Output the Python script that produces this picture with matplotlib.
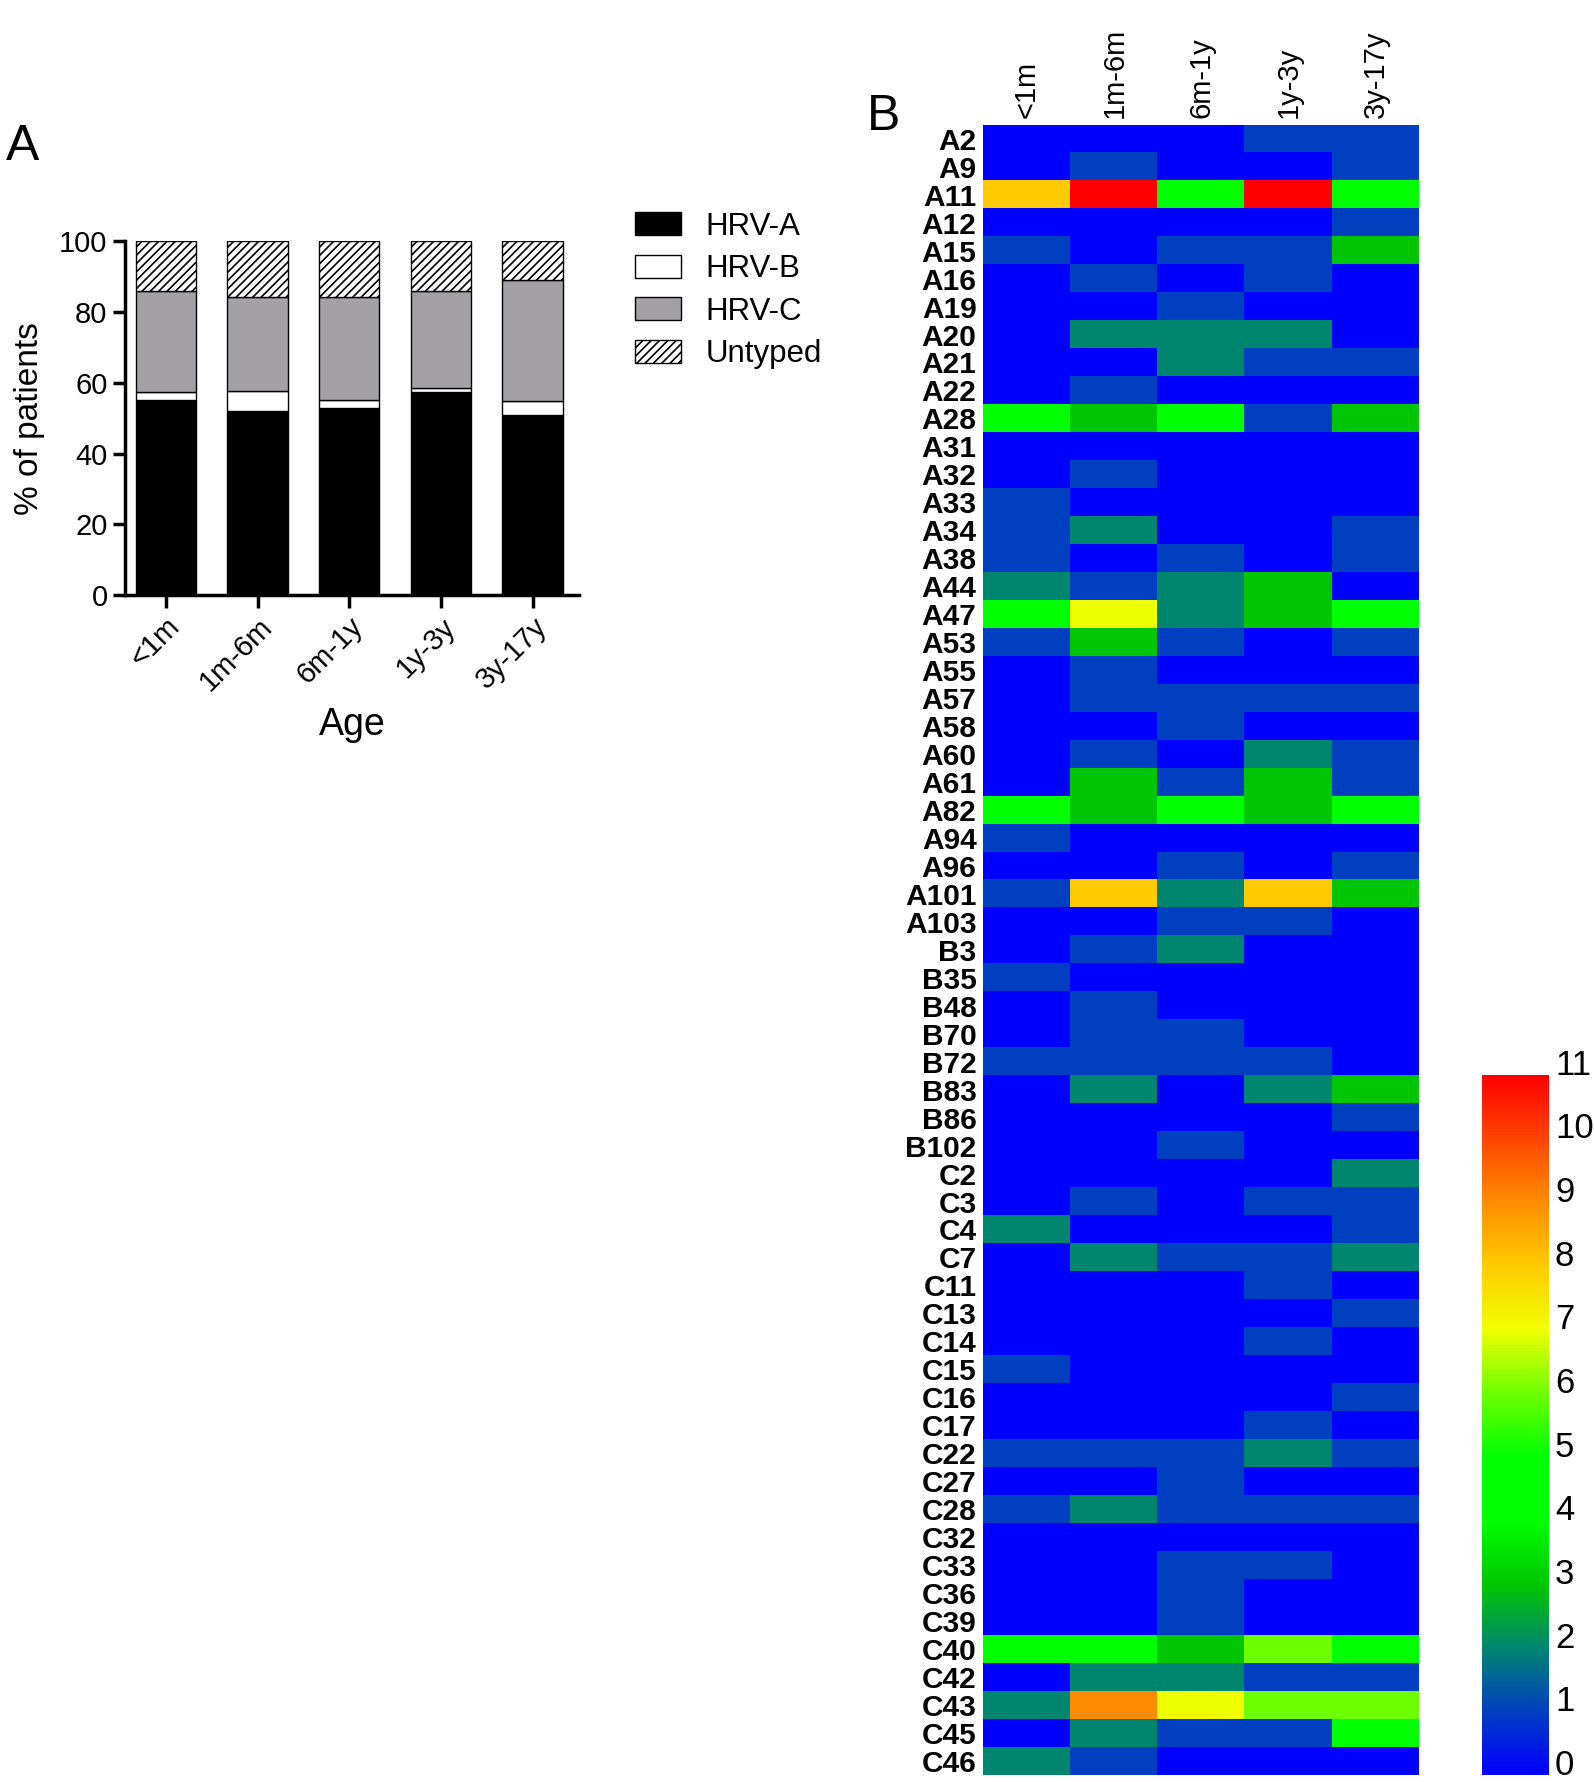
import numpy as np
import matplotlib
matplotlib.use("Agg")
import matplotlib.pyplot as plt
from matplotlib.colors import LinearSegmentedColormap
from matplotlib.patches import Patch
from matplotlib.transforms import ScaledTranslation

plt.rcParams['font.family'] = ['Liberation Sans', 'DejaVu Sans']
plt.rcParams['hatch.linewidth'] = 1.2

# ---- panel A data ----
ages = ['<1m', '1m-6m', '6m-1y', '1y-3y', '3y-17y']
hrv_a = [55.0, 52.0, 53.0, 57.5, 51.0]
hrv_b = [2.3, 5.8, 2.0, 1.0, 3.8]
hrv_c = [28.7, 26.5, 29.3, 27.5, 34.2]
untyped = [100 - a - b - c for a, b, c in zip(hrv_a, hrv_b, hrv_c)]

# ---- panel B data ----
types = ['A2', 'A9', 'A11', 'A12', 'A15', 'A16', 'A19', 'A20', 'A21', 'A22',
         'A28', 'A31', 'A32', 'A33', 'A34', 'A38', 'A44', 'A47', 'A53', 'A55',
         'A57', 'A58', 'A60', 'A61', 'A82', 'A94', 'A96', 'A101', 'A103',
         'B3', 'B35', 'B48', 'B70', 'B72', 'B83', 'B86', 'B102',
         'C2', 'C3', 'C4', 'C7', 'C11', 'C13', 'C14', 'C15', 'C16', 'C17',
         'C22', 'C27', 'C28', 'C32', 'C33', 'C36', 'C39', 'C40', 'C42', 'C43',
         'C45', 'C46']
counts = [
    [0, 0, 0, 1, 1],   # A2
    [0, 1, 0, 0, 1],   # A9
    [8, 11, 4, 11, 4], # A11
    [0, 0, 0, 0, 1],   # A12
    [1, 0, 1, 1, 3],   # A15
    [0, 1, 0, 1, 0],   # A16
    [0, 0, 1, 0, 0],   # A19
    [0, 2, 2, 2, 0],   # A20
    [0, 0, 2, 1, 1],   # A21
    [0, 1, 0, 0, 0],   # A22
    [4, 3, 4, 1, 3],   # A28
    [0, 0, 0, 0, 0],   # A31
    [0, 1, 0, 0, 0],   # A32
    [1, 0, 0, 0, 0],   # A33
    [1, 2, 0, 0, 1],   # A34
    [1, 0, 1, 0, 1],   # A38
    [2, 1, 2, 3, 0],   # A44
    [4, 7, 2, 3, 4],   # A47
    [1, 3, 1, 0, 1],   # A53
    [0, 1, 0, 0, 0],   # A55
    [0, 1, 1, 1, 1],   # A57
    [0, 0, 1, 0, 0],   # A58
    [0, 1, 0, 2, 1],   # A60
    [0, 3, 1, 3, 1],   # A61
    [4, 3, 4, 3, 4],   # A82
    [1, 0, 0, 0, 0],   # A94
    [0, 0, 1, 0, 1],   # A96
    [1, 8, 2, 8, 3],   # A101
    [0, 0, 1, 1, 0],   # A103
    [0, 1, 2, 0, 0],   # B3
    [1, 0, 0, 0, 0],   # B35
    [0, 1, 0, 0, 0],   # B48
    [0, 1, 1, 0, 0],   # B70
    [1, 1, 1, 1, 0],   # B72
    [0, 2, 0, 2, 3],   # B83
    [0, 0, 0, 0, 1],   # B86
    [0, 0, 1, 0, 0],   # B102
    [0, 0, 0, 0, 2],   # C2
    [0, 1, 0, 1, 1],   # C3
    [2, 0, 0, 0, 1],   # C4
    [0, 2, 1, 1, 2],   # C7
    [0, 0, 0, 1, 0],   # C11
    [0, 0, 0, 0, 1],   # C13
    [0, 0, 0, 1, 0],   # C14
    [1, 0, 0, 0, 0],   # C15
    [0, 0, 0, 0, 1],   # C16
    [0, 0, 0, 1, 0],   # C17
    [1, 1, 1, 2, 1],   # C22
    [0, 0, 1, 0, 0],   # C27
    [1, 2, 1, 1, 1],   # C28
    [0, 0, 0, 0, 0],   # C32
    [0, 0, 1, 1, 0],   # C33
    [0, 0, 1, 0, 0],   # C36
    [0, 0, 1, 0, 0],   # C39
    [4, 4, 3, 6, 4],   # C40
    [0, 2, 2, 1, 1],   # C42
    [2, 9, 7, 6, 6],   # C43
    [0, 2, 1, 1, 4],   # C45
    [2, 1, 0, 0, 0],   # C46
]

cmap = LinearSegmentedColormap.from_list('hrv', [
    (0 / 11, (0, 0, 1)),
    (1 / 11, (0, 0.25, 0.75)),
    (2 / 11, (0, 0.53, 0.43)),
    (3 / 11, (0, 0.78, 0)),
    (4 / 11, (0, 1, 0)),
    (5 / 11, (0, 1, 0)),
    (6 / 11, (0.43, 1, 0)),
    (7 / 11, (0.94, 1, 0)),
    (8 / 11, (1, 0.8, 0)),
    (9 / 11, (1, 0.55, 0)),
    (10 / 11, (1, 0.27, 0)),
    (11 / 11, (1, 0, 0)),
])

fig = plt.figure(figsize=(15.94, 17.82), dpi=100)

# ---- A: stacked bars ----
ax = fig.add_axes([0.0784, 0.666, 0.285, 0.1987])
x = np.arange(len(ages))
w = 0.656
bottom_b = np.array(hrv_a)
bottom_c = bottom_b + np.array(hrv_b)
bottom_u = bottom_c + np.array(hrv_c)
ax.bar(x, hrv_a, w, color='black', edgecolor='black', linewidth=1)
ax.bar(x, hrv_b, w, bottom=bottom_b, color='white', edgecolor='black', linewidth=1)
ax.bar(x, hrv_c, w, bottom=bottom_c, color='#a3a1a6', edgecolor='black', linewidth=1)
ax.bar(x, untyped, w, bottom=bottom_u, color='white', edgecolor='black',
       linewidth=1, hatch='////')
ax.set_xlim(-0.446, 4.51)
ax.set_ylim(0, 100)
ax.set_yticks([0, 20, 40, 60, 80, 100])
ax.set_xticks(x)
ax.set_xticklabels(ages, rotation=45, ha='right', rotation_mode='anchor', fontsize=21)
ax.spines['top'].set_visible(False)
ax.spines['right'].set_visible(False)
ax.spines['left'].set_linewidth(2.5)
ax.spines['bottom'].set_linewidth(2.5)
ax.tick_params(width=2.5, length=9)
ax.tick_params(axis='y', labelsize=21)
ax.set_ylabel('% of patients', fontsize=24, labelpad=10)
ax.set_xlabel('Age', fontsize=27, labelpad=8)

handles = [Patch(facecolor='black', edgecolor='black', label='HRV-A'),
           Patch(facecolor='white', edgecolor='black', label='HRV-B'),
           Patch(facecolor='#a3a1a6', edgecolor='black', label='HRV-C'),
           Patch(facecolor='white', edgecolor='black', hatch='////', label='Untyped')]
fig.legend(handles=handles, loc='upper left', bbox_to_anchor=(0.381, 0.897),
           frameon=False, fontsize=22.5, handlelength=1.45, handleheight=0.75,
           labelspacing=0.4, handletextpad=0.8)

fig.text(0.004, 0.910, 'A', fontsize=36)
fig.text(0.544, 0.927, 'B', fontsize=36)

# ---- B: heatmap ----
hx = fig.add_axes([0.617, 0.004, 0.2735, 0.926])
im = hx.imshow(np.array(counts), cmap=cmap, vmin=0, vmax=11, aspect='auto',
               interpolation='nearest')
hx.set_yticks(np.arange(len(types)))
hx.set_yticklabels(types, fontsize=21.5, fontweight='bold')
hx.set_xticks(np.arange(len(ages)))
hx.set_xticklabels(ages, rotation=90, fontsize=21)
hx.xaxis.tick_top()
hx.tick_params(length=0, pad=5)
for s in hx.spines.values():
    s.set_visible(False)

cax = fig.add_axes([0.930, 0.004, 0.042, 0.393])
cb = fig.colorbar(im, cax=cax, ticks=range(0, 12))
cb.outline.set_visible(False)
cax.tick_params(length=0, labelsize=25, pad=4)
# labels sit a little above their level, as in the original
shift = ScaledTranslation(0, 0.13, fig.dpi_scale_trans)
for lab in cax.get_yticklabels():
    lab.set_transform(lab.get_transform() + shift)

fig.savefig('out.png', dpi=100)
